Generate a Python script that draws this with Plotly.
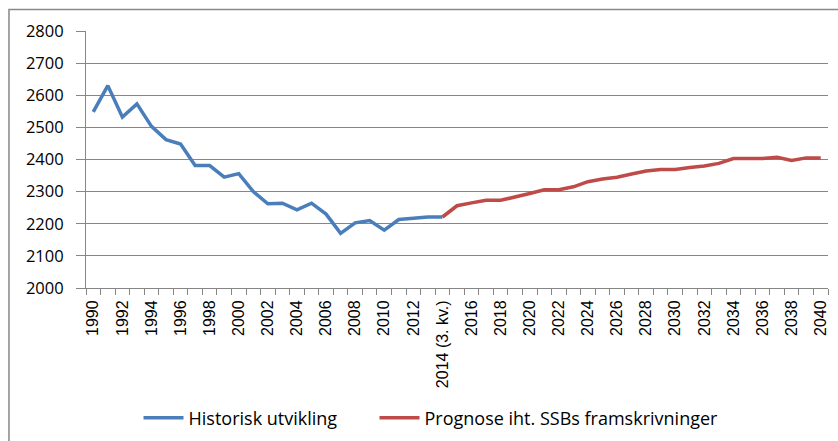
import plotly.graph_objects as go

hist_years = list(range(1990, 2015))
hist_values = [2548, 2630, 2532, 2573, 2503, 2462, 2448, 2381, 2381, 2345,
               2356, 2300, 2262, 2264, 2243, 2264, 2230, 2170, 2203, 2210,
               2180, 2213, 2217, 2221, 2221]

prog_years = list(range(2014, 2041))
prog_values = [2221, 2256, 2265, 2273, 2273, 2283, 2294, 2306, 2306, 2315,
               2331, 2339, 2345, 2355, 2364, 2369, 2369, 2375, 2380, 2388,
               2403, 2403, 2403, 2407, 2397, 2405, 2405]

tick_years = list(range(1990, 2041, 2))
tick_labels = [("2014 (3. kv.)" if y == 2014 else str(y)) for y in tick_years]
y_ticks = [2000, 2100, 2200, 2300, 2400, 2500, 2600, 2700, 2800]

series_names = ["Historisk utvikling", "Prognose iht. SSBs framskrivninger"]
colors = ["#4A7EBB", "#BE4B48"]

fig = go.Figure()
fig.add_trace(go.Scatter(x=hist_years, y=hist_values, mode="lines",
                         name=series_names[0], legend="legend",
                         line=dict(color=colors[0], width=3.5)))
fig.add_trace(go.Scatter(x=prog_years, y=prog_values, mode="lines",
                         name=series_names[1], legend="legend2",
                         line=dict(color=colors[1], width=3.5)))

grid = "#868686"
leg_font = dict(family="Open Sans", size=18, color="#000")
fig.update_layout(
    width=838, height=441, autosize=False,
    margin=dict(l=86, r=10, t=31, b=153, pad=0),
    paper_bgcolor="white", plot_bgcolor="white",
    showlegend=True,
    legend=dict(orientation="h", xref="container", yref="container",
                x=0.1653, xanchor="left", y=0.052, yanchor="middle",
                font=leg_font, itemwidth=40, bgcolor="rgba(0,0,0,0)"),
    legend2=dict(orientation="h", xref="container", yref="container",
                 x=0.4469, xanchor="left", y=0.052, yanchor="middle",
                 font=leg_font, itemwidth=40, bgcolor="rgba(0,0,0,0)"),
    xaxis=dict(range=[1989.5, 2040.5], tickmode="array", tickvals=tick_years,
               ticktext=tick_labels, tickangle=-90, showgrid=False,
               ticks="", showline=True, linecolor=grid, linewidth=1,
               tickfont=dict(family="Liberation Sans", size=16, color="#000"),
               ticklabelstandoff=5,
               minor=dict(tickmode="linear", tick0=1989.5, dtick=1, ticks="outside",
                          ticklen=6, tickcolor=grid, showgrid=False),
               automargin=False, zeroline=False, fixedrange=True),
    yaxis=dict(range=[2000, 2800], tickmode="array", tickvals=y_ticks,
               showgrid=True, gridcolor=grid, gridwidth=1,
               ticks="outside", ticklen=9, tickcolor=grid,
               showline=True, linecolor=grid, linewidth=1,
               tickfont=dict(family="Open Sans", size=16.5, color="#000"),
               ticklabelstandoff=9,
               automargin=False, zeroline=False, fixedrange=True),
)

# outer chart frame (cropped at right and bottom in the original)
fig.add_shape(type="rect", xref="paper", yref="paper",
              x0=-0.1038, x1=1.05, y0=-0.7, y1=1.084,
              line=dict(color="#888888", width=1.5), fillcolor="rgba(0,0,0,0)",
              layer="below")

fig.write_html("out.html", config={"displayModeBar": False},
               post_script="document.body.style.margin='0';")
